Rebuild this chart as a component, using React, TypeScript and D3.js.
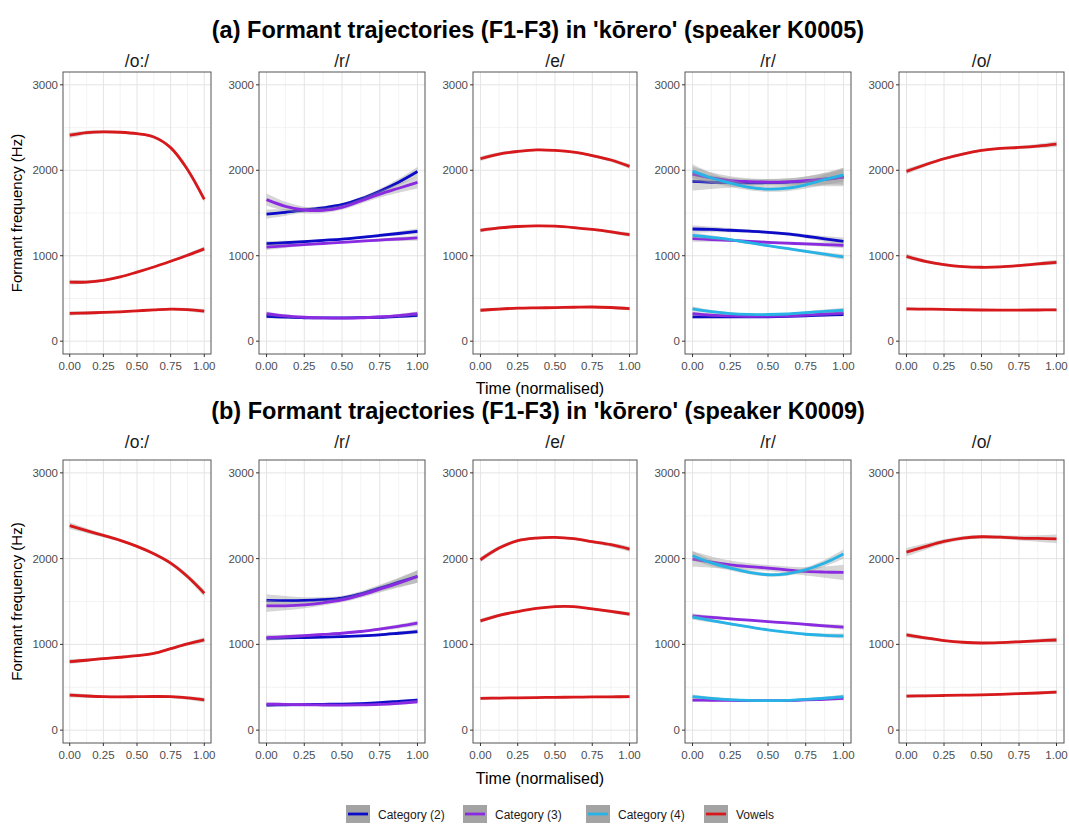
import { useEffect } from "react";
import * as d3 from "d3";

const timePoints = [0, 0.125, 0.25, 0.375, 0.5, 0.625, 0.75, 0.875, 1];

const categories = ["Category (2)", "Category (3)", "Category (4)", "Vowels"];
const categoryColors = ["#0b0bc8", "#8a2be2", "#27b3e6", "#d7191c"];

const segmentLabels = ["/o:/", "/r/", "/e/", "/r/", "/o/"];
const rowTitles = [
  "(a) Formant trajectories (F1-F3) in 'kōrero' (speaker K0005)",
  "(b) Formant trajectories (F1-F3) in 'kōrero' (speaker K0009)",
];

const yTicks = [0, 1000, 2000, 3000];
const xTicks = [0, 0.25, 0.5, 0.75, 1];

// --- speaker K0005 ---
const a_oo = [
  { cat: "Vowels", se: 14, values: [325, 330, 336, 344, 355, 366, 375, 370, 352] },
  { cat: "Vowels", se: 16, values: [690, 692, 712, 752, 808, 868, 935, 1005, 1080] },
  { cat: "Vowels", se: 18, values: [2410, 2440, 2450, 2445, 2428, 2390, 2265, 2010, 1660] },
];
const a_r1 = [
  { cat: "Category (2)", se: 14, values: [292, 282, 274, 272, 273, 275, 280, 290, 302] },
  { cat: "Category (2)", se: 18, values: [1140, 1152, 1165, 1180, 1195, 1215, 1237, 1260, 1285] },
  { cat: "Category (2)", se: 30, values: [1488, 1508, 1535, 1560, 1597, 1665, 1755, 1860, 1985] },
  { cat: "Category (3)", se: 14, values: [323, 295, 280, 272, 269, 272, 284, 300, 322] },
  { cat: "Category (3)", se: 18, values: [1100, 1115, 1130, 1143, 1157, 1170, 1183, 1196, 1208] },
  { cat: "Category (3)", se: 40, values: [1656, 1578, 1535, 1530, 1565, 1640, 1720, 1790, 1858] },
];
const a_e = [
  { cat: "Vowels", se: 12, values: [362, 376, 386, 390, 393, 397, 400, 394, 382] },
  { cat: "Vowels", se: 14, values: [1297, 1325, 1342, 1350, 1346, 1330, 1308, 1280, 1247] },
  { cat: "Vowels", se: 16, values: [2135, 2190, 2220, 2238, 2232, 2212, 2172, 2120, 2045] },
];
const a_r2 = [
  { cat: "Category (2)", se: 12, values: [285, 284, 284, 284, 285, 290, 297, 305, 312] },
  { cat: "Category (2)", se: 25, values: [1313, 1308, 1298, 1287, 1274, 1255, 1228, 1198, 1169] },
  { cat: "Category (2)", se: 60, values: [1870, 1860, 1855, 1852, 1855, 1860, 1870, 1893, 1921] },
  { cat: "Category (3)", se: 14, values: [323, 305, 296, 292, 292, 296, 305, 318, 331] },
  { cat: "Category (3)", se: 20, values: [1200, 1190, 1180, 1168, 1157, 1147, 1138, 1130, 1122] },
  { cat: "Category (3)", se: 50, values: [1955, 1910, 1880, 1868, 1862, 1865, 1878, 1898, 1920] },
  { cat: "Category (4)", se: 16, values: [378, 345, 323, 314, 312, 318, 335, 350, 362] },
  { cat: "Category (4)", se: 18, values: [1239, 1215, 1188, 1152, 1118, 1085, 1052, 1018, 986] },
  { cat: "Category (4)", se: 45, values: [1990, 1910, 1850, 1800, 1780, 1790, 1830, 1890, 1945] },
];
const a_o = [
  { cat: "Vowels", se: 10, values: [378, 375, 372, 368, 365, 364, 364, 365, 366] },
  { cat: "Vowels", se: 16, values: [993, 935, 896, 873, 865, 869, 884, 904, 923] },
  { cat: "Vowels", se: 18, values: [1987, 2065, 2135, 2190, 2232, 2256, 2267, 2283, 2306] },
];

// --- speaker K0009 ---
const b_oo = [
  { cat: "Vowels", se: 16, values: [409, 398, 390, 388, 390, 392, 390, 375, 352] },
  { cat: "Vowels", se: 16, values: [800, 815, 835, 850, 868, 895, 950, 1005, 1052] },
  { cat: "Vowels", se: 22, values: [2384, 2326, 2271, 2213, 2143, 2057, 1948, 1792, 1597] },
];
const b_r1 = [
  { cat: "Category (2)", se: 12, values: [292, 295, 298, 301, 304, 310, 320, 335, 351] },
  { cat: "Category (2)", se: 16, values: [1071, 1075, 1080, 1085, 1091, 1100, 1112, 1130, 1149] },
  { cat: "Category (2)", se: 40, values: [1512, 1510, 1512, 1522, 1539, 1590, 1656, 1725, 1792] },
  { cat: "Category (3)", se: 12, values: [304, 300, 296, 293, 292, 294, 300, 313, 331] },
  { cat: "Category (3)", se: 18, values: [1079, 1090, 1102, 1116, 1130, 1150, 1178, 1210, 1247] },
  { cat: "Category (3)", se: 40, values: [1449, 1450, 1461, 1485, 1519, 1575, 1644, 1715, 1792] },
];
const b_e = [
  { cat: "Vowels", se: 10, values: [370, 374, 377, 380, 382, 385, 387, 389, 390] },
  { cat: "Vowels", se: 14, values: [1274, 1338, 1383, 1420, 1441, 1441, 1414, 1385, 1352] },
  { cat: "Vowels", se: 18, values: [1987, 2123, 2209, 2240, 2248, 2232, 2197, 2162, 2112] },
];
const b_r2 = [
  { cat: "Category (3)", se: 12, values: [351, 348, 346, 344, 343, 345, 352, 360, 370] },
  { cat: "Category (3)", se: 16, values: [1332, 1315, 1298, 1282, 1266, 1250, 1233, 1216, 1200] },
  { cat: "Category (3)", se: 50, values: [1995, 1960, 1928, 1907, 1890, 1870, 1851, 1843, 1839] },
  { cat: "Category (4)", se: 14, values: [390, 370, 355, 346, 343, 346, 358, 372, 390] },
  { cat: "Category (4)", se: 16, values: [1317, 1278, 1239, 1203, 1169, 1142, 1118, 1105, 1099] },
  { cat: "Category (4)", se: 30, values: [2034, 1950, 1890, 1840, 1812, 1823, 1870, 1948, 2053] },
];
const b_o = [
  { cat: "Vowels", se: 12, values: [397, 400, 404, 408, 412, 418, 425, 433, 444] },
  { cat: "Vowels", se: 16, values: [1110, 1075, 1045, 1025, 1016, 1020, 1030, 1042, 1051] },
  { cat: "Vowels", se: 28, values: [2075, 2140, 2200, 2240, 2255, 2250, 2240, 2235, 2231] },
];

const rows = [
  [a_oo, a_r1, a_e, a_r2, a_o],
  [b_oo, b_r1, b_e, b_r2, b_o],
];

// layout (pixels)
const W = 1069;
const H = 825;
const panelX = [
  [63, 211],
  [259, 425],
  [473, 637],
  [685, 851],
  [899, 1064],
];
const rowY = [
  [72, 354],
  [460, 743],
];
const titleY = [38, 419];
const stripY = [67, 448];
const xTitleY = [394, 784];
const legendX = [346, 463, 586, 704];

const FONT = "'Liberation Sans', Arial, Helvetica, sans-serif";

function Panel({ series, x0, x1, y0, y1, label }) {
  const x = d3.scaleLinear().domain([-0.05, 1.05]).range([x0, x1]);
  const y = d3.scaleLinear().domain([-150, 3150]).range([y1, y0]);
  const color = d3.scaleOrdinal().domain(categories).range(categoryColors);

  const line = d3
    .line()
    .x((d) => x(d[0]))
    .y((d) => y(d[1]))
    .curve(d3.curveCatmullRom.alpha(0.5));

  // se band widens towards the ends, like a loess/gam confidence band
  const area = d3
    .area()
    .x((d) => x(d[0]))
    .y0((d) => y(d[1] - d[2]))
    .y1((d) => y(d[1] + d[2]))
    .curve(d3.curveCatmullRom.alpha(0.5));

  const minorX = [0.125, 0.375, 0.625, 0.875];
  const minorY = [500, 1500, 2500];

  return (
    <g>
      <text
        x={(x0 + x1) / 2}
        y={stripY[label.row]}
        textAnchor="middle"
        fontSize={17.5}
        fill="#1a1a1a"
      >
        {label.text}
      </text>
      <rect x={x0} y={y0} width={x1 - x0} height={y1 - y0} fill="#fff" />
      {minorX.map((t) => (
        <line key={"mx" + t} x1={x(t)} x2={x(t)} y1={y0} y2={y1} stroke="#f0f0f0" strokeWidth={0.8} />
      ))}
      {minorY.map((v) => (
        <line key={"my" + v} x1={x0} x2={x1} y1={y(v)} y2={y(v)} stroke="#f0f0f0" strokeWidth={0.8} />
      ))}
      {xTicks.map((t) => (
        <line key={"gx" + t} x1={x(t)} x2={x(t)} y1={y0} y2={y1} stroke="#e4e4e4" strokeWidth={1} />
      ))}
      {yTicks.map((v) => (
        <line key={"gy" + v} x1={x0} x2={x1} y1={y(v)} y2={y(v)} stroke="#e4e4e4" strokeWidth={1} />
      ))}
      {series.map((s, i) => {
        const pts = s.values.map((v, k) => {
          const d = Math.abs(timePoints[k] - 0.5) * 2;
          return [timePoints[k], v, s.se * (0.7 + 1.1 * d * d)];
        });
        return (
          <g key={i}>
            <path d={area(pts)} fill="#999999" fillOpacity={0.4} />
            <path d={area(pts.map((p) => [p[0], p[1], 12]))} fill={color(s.cat)} fillOpacity={0.12} />
            <path d={line(pts)} fill="none" stroke={color(s.cat)} strokeWidth={2.8} strokeLinecap="butt" />
          </g>
        );
      })}
      <rect x={x0} y={y0} width={x1 - x0} height={y1 - y0} fill="none" stroke="#555" strokeWidth={1} />
      {yTicks.map((v) => (
        <g key={"ty" + v}>
          <line x1={x0 - 3} x2={x0} y1={y(v)} y2={y(v)} stroke="#333" strokeWidth={1} />
          <text x={x0 - 5} y={y(v) + 4} textAnchor="end" fontSize={11.5} fill="#4d4d4d">
            {v}
          </text>
        </g>
      ))}
      {xTicks.map((t) => (
        <g key={"tx" + t}>
          <line x1={x(t)} x2={x(t)} y1={y1} y2={y1 + 3} stroke="#333" strokeWidth={1} />
          <text x={x(t)} y={y1 + 16} textAnchor="middle" fontSize={11.5} fill="#4d4d4d">
            {d3.format(".2f")(t)}
          </text>
        </g>
      ))}
    </g>
  );
}

export default function App() {
  useEffect(() => {
    document.body.style.margin = "0";
  }, []);

  const color = d3.scaleOrdinal().domain(categories).range(categoryColors);

  return (
    <svg width={W} height={H} viewBox={`0 0 ${W} ${H}`} style={{ display: "block", fontFamily: FONT }}>
      <rect width={W} height={H} fill="#fff" />
      {rows.map((row, r) => (
        <g key={r}>
          <text x={538} y={titleY[r]} textAnchor="middle" fontSize={23.5} fontWeight="bold" fill="#000">
            {rowTitles[r]}
          </text>
          {row.map((series, p) => (
            <Panel
              key={p}
              series={series}
              x0={panelX[p][0]}
              x1={panelX[p][1]}
              y0={rowY[r][0]}
              y1={rowY[r][1]}
              label={{ text: segmentLabels[p], row: r }}
            />
          ))}
          <text
            transform={`translate(22,${(rowY[r][0] + rowY[r][1]) / 2}) rotate(-90)`}
            textAnchor="middle"
            fontSize={15}
            fill="#000"
          >
            Formant frequency (Hz)
          </text>
          <text x={540} y={xTitleY[r]} textAnchor="middle" fontSize={16} fill="#000">
            Time (normalised)
          </text>
        </g>
      ))}
      {categories.map((c, i) => (
        <g key={c} transform={`translate(${legendX[i]},805)`}>
          <rect width={24} height={18} fill="#a3a3a3" />
          <line x1={2} x2={22} y1={9} y2={9} stroke={color(c)} strokeWidth={2.8} />
          <text x={32} y={13.5} fontSize={12} fill="#1a1a1a">
            {c}
          </text>
        </g>
      ))}
    </svg>
  );
}
